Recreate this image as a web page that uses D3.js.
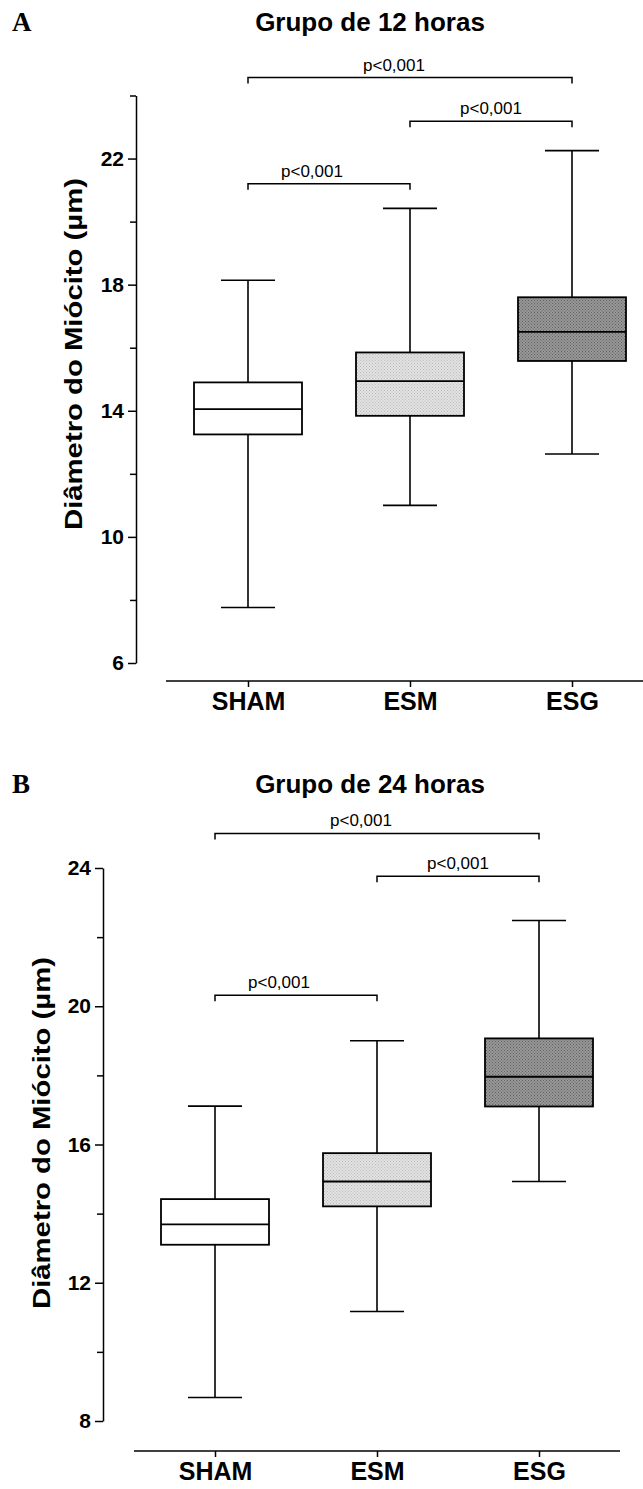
<!DOCTYPE html>
<html>
<head>
<meta charset="utf-8">
<script src="https://cdn.jsdelivr.net/npm/d3@7"></script>
<style>
  body { margin: 0; background: #fff; }
  text { font-family: "Liberation Sans", Arial, sans-serif; fill: #000; }
  .axis path, .axis line { stroke: #000; stroke-width: 1.5; }
</style>
</head>
<body>
<script>
// categories shared by both panels
var categories = ["SHAM", "ESM", "ESG"];

// panel A - 12 hours (min, Q1, median, Q3, max)
var min12    = [7.76, 11.0, 12.63];
var q1_12    = [13.25, 13.84, 15.58];
var median12 = [14.05, 14.94, 16.5];
var q3_12    = [14.9, 15.85, 17.6];
var max12    = [18.14, 20.42, 22.25];

// panel B - 24 hours
var min24    = [8.68, 11.17, 14.93];
var q1_24    = [13.1, 14.21, 17.1];
var median24 = [13.69, 14.93, 17.96];
var q3_24    = [14.42, 15.75, 19.07];
var max24    = [17.11, 19.0, 22.48];

// significance brackets: pairs of category indexes and the level they sit at
var pairs = [[0, 2], [1, 2], [0, 1]];
var bracketLevel12 = [24.57, 23.18, 21.2];
var bracketLevel24 = [25.0, 23.76, 20.32];
var pLabel = "p<0,001";

// y ticks
var major12 = [6, 10, 14, 18, 22];
var minor12 = [8, 12, 16, 20, 24];
var major24 = [8, 12, 16, 20, 24];
var minor24 = [10, 14, 18, 22];

var width = 643, height = 1489;

var svg = d3.select("body").append("svg")
    .attr("width", width)
    .attr("height", height);

/* dotted fills for the grey boxes */
var defs = svg.append("defs");
function dotPattern(id, bg, dot) {
    var p = defs.append("pattern")
        .attr("id", id)
        .attr("width", 3).attr("height", 3)
        .attr("patternUnits", "userSpaceOnUse");
    p.append("rect").attr("width", 3).attr("height", 3).attr("fill", bg);
    p.append("rect").attr("width", 1).attr("height", 1).attr("fill", dot);
    p.append("rect").attr("x", 1.5).attr("y", 1.5).attr("width", 1).attr("height", 1).attr("fill", dot);
}
dotPattern("lightDots", "#e2e2e2", "#bdbdbd");
dotPattern("darkDots", "#979797", "#636363");
var fills = ["#fff", "url(#lightDots)", "url(#darkDots)"];

/* draw one panel */
function drawPanel(cfg) {
    var g = svg.append("g");

    var x = d3.scalePoint().domain(categories).range(cfg.xRange);
    var y = d3.scaleLinear().domain(cfg.yDomain).range(cfg.yRange);
    var boxW = 108, capW = 54;

    // panel letter
    g.append("text")
        .attr("x", 12).attr("y", cfg.titleY)
        .style("font-family", "'Liberation Serif', 'Times New Roman', serif")
        .style("font-weight", "bold").style("font-size", "27px")
        .text(cfg.letter);

    // title
    g.append("text")
        .attr("x", cfg.titleX).attr("y", cfg.titleY)
        .attr("text-anchor", "middle")
        .style("font-weight", "bold").style("font-size", "26px")
        .text(cfg.title);

    // y axis: labelled ticks + minor ticks
    var axisX = cfg.axisX;
    g.append("g")
        .attr("class", "axis")
        .attr("transform", "translate(" + axisX + ",0)")
        .call(d3.axisLeft(y).tickValues(cfg.major).tickSize(8).tickSizeOuter(0).tickPadding(4))
        .selectAll(".tick text")
        .style("font-family", "'Liberation Sans', Arial, sans-serif")
        .style("font-weight", "bold").style("font-size", "21px");
    g.append("g")
        .attr("class", "axis")
        .attr("transform", "translate(" + axisX + ",0)")
        .call(d3.axisLeft(y).tickValues(cfg.minor).tickSize(6).tickSizeOuter(0).tickFormat(""))
        .select(".domain").remove();

    // y axis title (drawn wide, as in the original)
    g.append("text")
        .attr("transform", "translate(" + cfg.yTitleX + "," + cfg.yTitleY + ") rotate(-90)")
        .attr("text-anchor", "middle")
        .attr("textLength", 352)
        .attr("lengthAdjust", "spacingAndGlyphs")
        .style("font-weight", "bold").style("font-size", "24px")
        .text("Diâmetro do Miócito (µm)");

    // x axis: separate baseline below the plot
    var xAxis = g.append("g")
        .attr("class", "axis")
        .attr("transform", "translate(0," + cfg.xAxisY + ")")
        .call(d3.axisBottom(x).tickSize(6).tickPadding(5));
    xAxis.select(".domain").remove();
    xAxis.selectAll(".tick text")
        .style("font-family", "'Liberation Sans', Arial, sans-serif")
        .style("font-weight", "bold").style("font-size", "25px");
    xAxis.append("line")
        .attr("x1", cfg.xLine[0]).attr("x2", cfg.xLine[1])
        .attr("stroke", "#000").attr("stroke-width", 1.5);

    // box plots
    var rows = categories.map(function(c, i) {
        return {cat: c, min: cfg.min[i], q1: cfg.q1[i], med: cfg.med[i], q3: cfg.q3[i], max: cfg.max[i], fill: fills[i]};
    });
    var box = g.selectAll(".box").data(rows).enter().append("g").attr("class", "box");

    box.append("line") // whisker
        .attr("x1", function(d) { return x(d.cat); })
        .attr("x2", function(d) { return x(d.cat); })
        .attr("y1", function(d) { return y(d.min); })
        .attr("y2", function(d) { return y(d.max); })
        .attr("stroke", "#000").attr("stroke-width", 1.6);
    [ "min", "max" ].forEach(function(k) {
        box.append("line") // caps
            .attr("x1", function(d) { return x(d.cat) - capW / 2; })
            .attr("x2", function(d) { return x(d.cat) + capW / 2; })
            .attr("y1", function(d) { return y(d[k]); })
            .attr("y2", function(d) { return y(d[k]); })
            .attr("stroke", "#000").attr("stroke-width", 1.6);
    });
    box.append("rect")
        .attr("x", function(d) { return x(d.cat) - boxW / 2; })
        .attr("y", function(d) { return y(d.q3); })
        .attr("width", boxW)
        .attr("height", function(d) { return y(d.q1) - y(d.q3); })
        .attr("fill", function(d) { return d.fill; })
        .attr("stroke", "#000").attr("stroke-width", 1.8);
    box.append("line") // median
        .attr("x1", function(d) { return x(d.cat) - boxW / 2; })
        .attr("x2", function(d) { return x(d.cat) + boxW / 2; })
        .attr("y1", function(d) { return y(d.med); })
        .attr("y2", function(d) { return y(d.med); })
        .attr("stroke", "#000").attr("stroke-width", 1.8);

    // significance brackets
    pairs.forEach(function(p, i) {
        var x1 = x(categories[p[0]]), x2 = x(categories[p[1]]), yy = y(cfg.brackets[i]);
        g.append("path")
            .attr("d", "M" + x1 + "," + (yy + 6) + "V" + yy + "H" + x2 + "V" + (yy + 6))
            .attr("fill", "none").attr("stroke", "#000").attr("stroke-width", 1.5);
        g.append("text")
            .attr("x", (x1 + x2) / 2 + cfg.labelDx[i]).attr("y", yy - 7)
            .attr("text-anchor", "middle")
            .style("font-size", "17px")
            .text(pLabel);
    });
}

drawPanel({
    letter: "A", title: "Grupo de 12 horas", titleX: 370, titleY: 31,
    xRange: [248, 572], yDomain: [6, 24], yRange: [663, 95.5],
    axisX: 136, major: major12, minor: minor12,
    yTitleX: 82, yTitleY: 354,
    xAxisY: 681, xLine: [166, 643],
    min: min12, q1: q1_12, med: median12, q3: q3_12, max: max12,
    brackets: bracketLevel12, labelDx: [-16, 0, -17]
});

drawPanel({
    letter: "B", title: "Grupo de 24 horas", titleX: 370, titleY: 793,
    xRange: [215, 539], yDomain: [8, 24], yRange: [1421, 868],
    axisX: 103, major: major24, minor: minor24,
    yTitleX: 50, yTitleY: 1133,
    xAxisY: 1451, xLine: [134, 620],
    min: min24, q1: q1_24, med: median24, q3: q3_24, max: max24,
    brackets: bracketLevel24, labelDx: [-16, 0, -17]
});
</script>
</body>
</html>
